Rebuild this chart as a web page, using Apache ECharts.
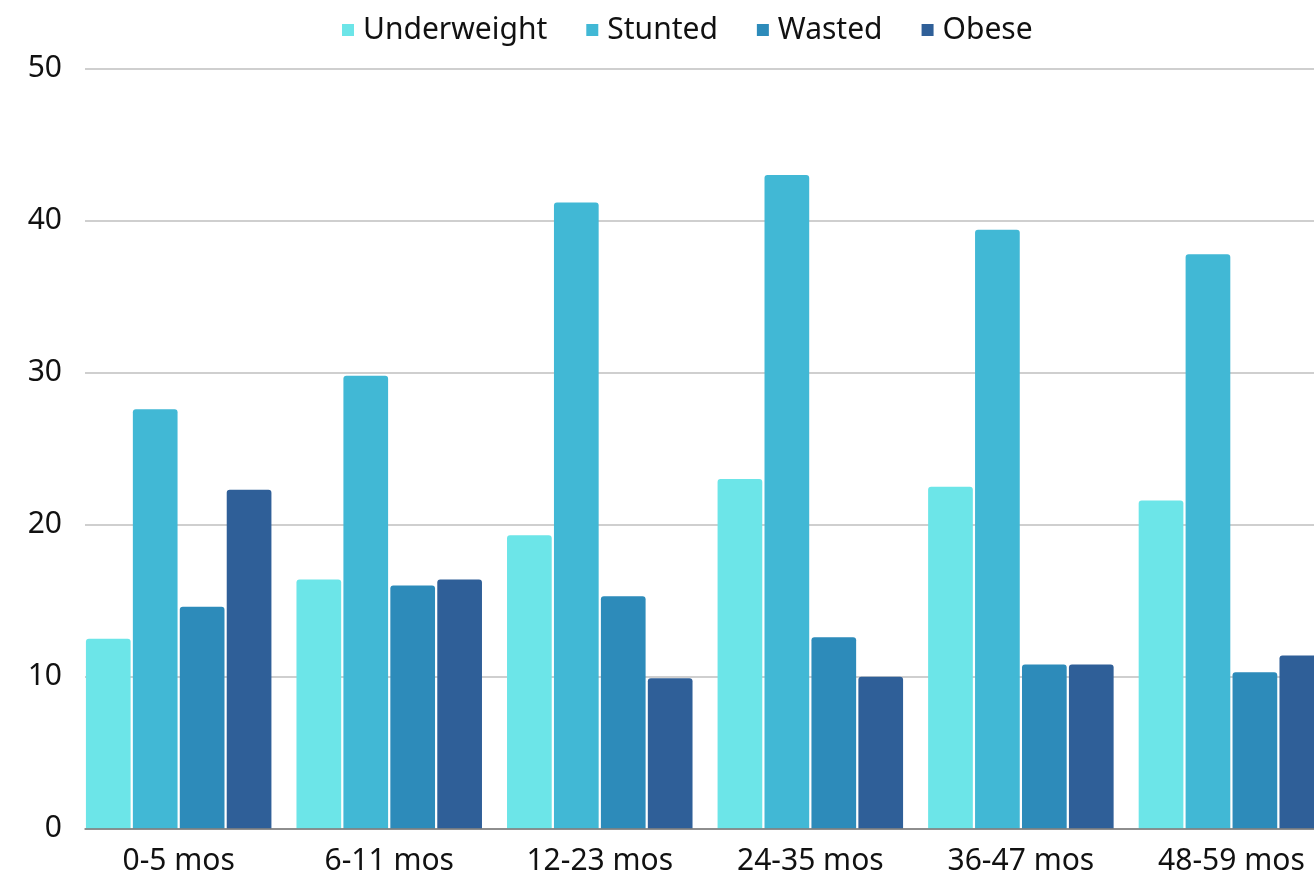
<!DOCTYPE html>
<html>
<head>
<meta charset="utf-8">
<script src="https://cdn.jsdelivr.net/npm/echarts@6/dist/echarts.min.js"></script>
<style>
  html, body { margin: 0; padding: 0; background: #ffffff; }
  #chart { width: 1314px; height: 876px; }
</style>
</head>
<body>
<div id="chart"></div>
<script>
// Age groups along the x axis
const categories = ['0-5 mos', '6-11 mos', '12-23 mos', '24-35 mos', '36-47 mos', '48-59 mos'];

// Prevalence (%) per age group
const underweight = [12.5, 16.4, 19.3, 23.0, 22.5, 21.6];
const stunted     = [27.6, 29.8, 41.2, 43.0, 39.4, 37.8];
const wasted      = [14.6, 16.0, 15.3, 12.6, 10.8, 10.3];
const obese       = [22.3, 16.4, 9.9, 10.0, 10.8, 11.4];

const seriesNames = ['Underweight', 'Stunted', 'Wasted', 'Obese'];
const seriesColors = ['#6ce5e8', '#41b8d5', '#2d8bba', '#2f5f98'];
const seriesValues = [underweight, stunted, wasted, obese];

const yMin = 0, yMax = 50, yStep = 10;

const FONT = '"Noto Sans", sans-serif';

const chart = echarts.init(document.getElementById('chart'), null, { renderer: 'canvas' });

const plotTop = 68.7;
const plotBottom = 876 - 828.7;

chart.setOption({
  animation: false,
  backgroundColor: '#ffffff',
  textStyle: { fontFamily: FONT },
  legend: {
    top: 10,
    left: 337,
    icon: 'rect',
    itemWidth: 12,
    itemHeight: 12,
    itemGap: 39,
    textStyle: { fontSize: 30, color: '#111111', fontFamily: FONT, padding: [0, 0, 0, 4] },
    data: seriesNames
  },
  grid: [
    // frame for the value axis, gridlines and baseline
    { left: 85, right: 0, top: plotTop, bottom: plotBottom, outerBoundsMode: 'none' },
    // frame for the bars and category labels (runs slightly past the right edge)
    { left: 73.4, width: 1263.3, top: plotTop, bottom: plotBottom, outerBoundsMode: 'none' }
  ],
  xAxis: [
    {
      gridIndex: 0,
      type: 'category',
      data: categories,
      z: 5,
      axisLine: { show: true, lineStyle: { color: '#7a7a7a', width: 1.5 } },
      axisTick: { show: false },
      axisLabel: { show: false },
      splitLine: { show: false }
    },
    {
      gridIndex: 1,
      type: 'category',
      data: categories,
      axisLine: { show: false },
      axisTick: { show: false },
      axisLabel: { fontSize: 30, color: '#111111', margin: 18, fontFamily: FONT },
      splitLine: { show: false }
    }
  ],
  yAxis: [
    {
      gridIndex: 0,
      type: 'value',
      min: yMin,
      max: yMax,
      interval: yStep,
      axisLine: { show: false },
      axisTick: { show: false },
      axisLabel: { fontSize: 30, color: '#111111', margin: 23, fontFamily: FONT },
      splitLine: { show: true, lineStyle: { color: '#bfbfbf', width: 1.5 } }
    },
    {
      gridIndex: 1,
      type: 'value',
      min: yMin,
      max: yMax,
      interval: yStep,
      show: false,
      splitLine: { show: false }
    }
  ],
  series: seriesNames.map((name, i) => ({
    name: name,
    type: 'bar',
    xAxisIndex: 1,
    yAxisIndex: 1,
    barWidth: 44.7,
    barGap: '5%',
    data: seriesValues[i],
    itemStyle: { color: seriesColors[i], borderRadius: [3, 3, 0, 0] }
  }))
});
</script>
</body>
</html>
